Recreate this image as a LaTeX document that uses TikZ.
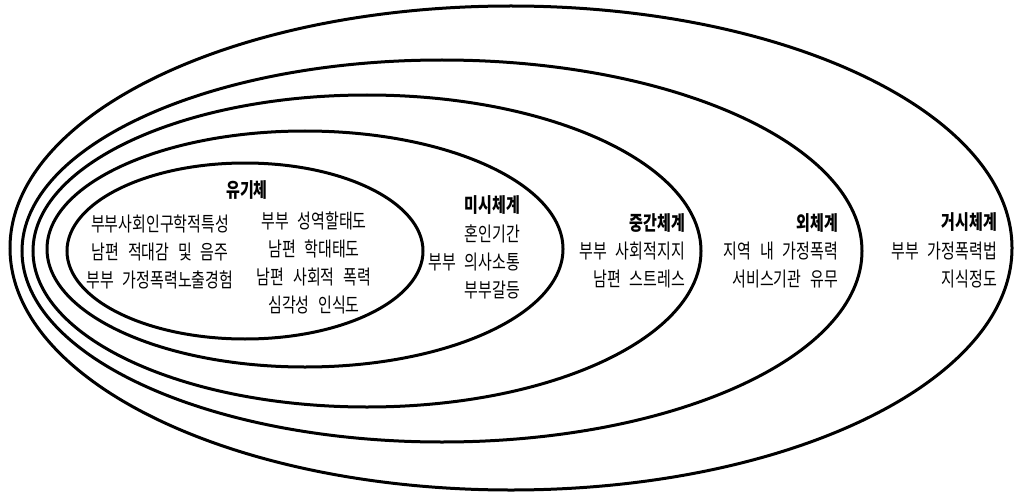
\documentclass[tikz,border=0pt]{standalone}
\usepackage{fontspec}
\setmainfont{Noto Sans CJK KR}[WordSpace=2.6]
\begin{document}
\begin{tikzpicture}[x=1pt,y=-1pt,
  ring/.style={line width=3pt},
  lbl/.style={inner sep=0pt,font=\fontsize{20}{28}\selectfont,xscale=0.75},
  ttl/.style={lbl,font=\fontsize{20}{28}\selectfont\bfseries}]
\useasboundingbox (0,0) rectangle (1014,492);
\draw[ring] (511,248) ellipse [x radius=501, y radius=242];
\draw[ring] (442,251) ellipse [x radius=420, y radius=191];
\draw[ring] (367,251) ellipse [x radius=334, y radius=156];
\draw[ring] (305,249) ellipse [x radius=258, y radius=118];
\draw[ring] (245,251) ellipse [x radius=178, y radius=88];
% organism
\node[ttl] (org) at (247,190) {유기체};
\node[lbl,align=center,anchor=north] (orgL) at (160,214.5) {부부사회인구학적특성\\남편 적대감 및 음주\\부부 가정폭력노출경험};
\node[lbl,align=center,anchor=north] (orgR) at (314,211.5) {부부 성역할태도\\남편 학대태도\\남편 사회적 폭력\\심각성 인식도};
% micro
\node[ttl,anchor=east] (micT) at (520,205) {미시체계};
\node[lbl,align=right,anchor=north east] (micB) at (520,224.5) {혼인기간\\부부 의사소통\\부부갈등};
% meso
\node[ttl,anchor=east] (mesT) at (685,223) {중간체계};
\node[lbl,align=right,anchor=north east] (mesB) at (685,241.5) {부부 사회적지지\\남편 스트레스};
% exo
\node[ttl,anchor=east] (exoT) at (838,223) {외체계};
\node[lbl,align=right,anchor=north east] (exoB) at (838,241.5) {지역 내 가정폭력\\서비스기관 유무};
% macro
\node[ttl,anchor=east] (macT) at (997,222) {거시체계};
\node[lbl,align=right,anchor=north east] (macB) at (997,241.5) {부부 가정폭력법\\지식정도};
\end{tikzpicture}
\end{document}
